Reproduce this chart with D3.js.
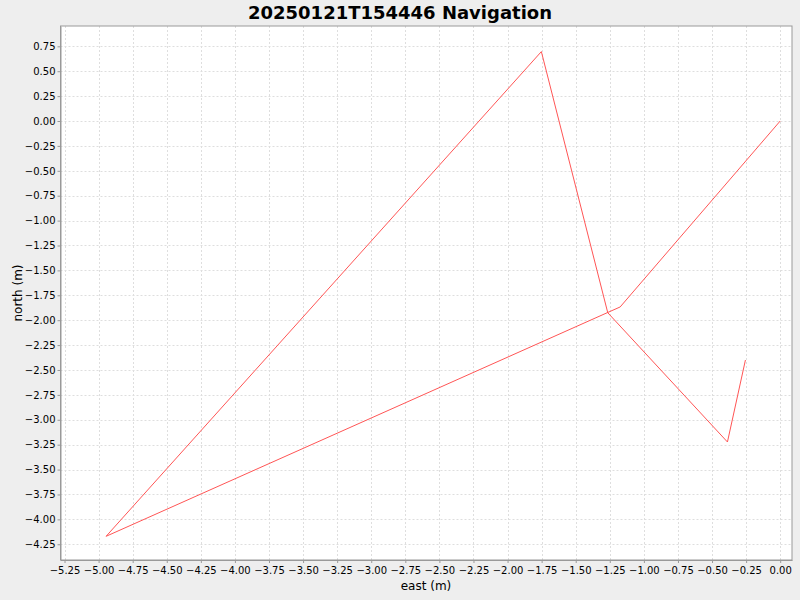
<!DOCTYPE html>
<html><head><meta charset="utf-8">
<script src="https://cdn.jsdelivr.net/npm/d3@7"></script>
<style>body{margin:0;background:#eeeeee}svg{display:block}</style>
</head><body>
<svg id="c" width="800" height="600"></svg>
<script>
const title = "20250121T154446 Navigation";
const xLabel = "east (m)";
const yLabel = "north (m)";
const eastValues  = [0.00, -1.174, -4.945, -1.752, -1.265, -0.387, -0.255];
const northValues = [0.00, -1.867, -4.170,  0.697, -1.925, -3.223, -2.400];
const xTicks = d3.range(-5.25, 0.001, 0.25);
const yTicks = d3.range(-4.25, 0.76, 0.25);

const svg = d3.select("#c");
const L = 60.5, R = 792, T = 26, B = 560;
svg.append("rect").attr("width",800).attr("height",600).attr("fill","#eeeeee");
const x = d3.scaleLinear().domain([-5.2795, 0.0866]).range([L, R]);
const y = d3.scaleLinear().domain([-4.408, 0.954]).range([B, T]);

svg.append("rect").attr("x",L).attr("y",T).attr("width",R-L).attr("height",B-T).attr("fill","#ffffff");

const g = svg.append("g");
g.selectAll(".vx").data(xTicks).enter().append("line")
  .attr("x1",d=>Math.round(x(d))+0.5).attr("x2",d=>Math.round(x(d))+0.5)
  .attr("y1",T).attr("y2",B).attr("stroke","#dedede").attr("stroke-width",1).attr("stroke-dasharray","2,2");
g.selectAll(".hy").data(yTicks).enter().append("line")
  .attr("y1",d=>Math.round(y(d))+0.5).attr("y2",d=>Math.round(y(d))+0.5)
  .attr("x1",L).attr("x2",R).attr("stroke","#dedede").attr("stroke-width",1).attr("stroke-dasharray","2,2");

const line = d3.line().x((d,i)=>x(eastValues[i])).y((d,i)=>y(northValues[i]));
svg.append("path").datum(eastValues).attr("d",line).attr("fill","none")
  .attr("stroke","#ff5555").attr("stroke-width",1);

svg.append("rect").attr("x",L).attr("y",T).attr("width",R-L).attr("height",B-T)
  .attr("fill","none").attr("stroke","#999999").attr("stroke-width",1);

const fmt = d3.format(".2f");
const xa = svg.append("g").attr("transform",`translate(0,${B})`)
  .call(d3.axisBottom(x).tickValues(xTicks).tickFormat(fmt).tickSize(3).tickSizeOuter(0));
const ya = svg.append("g").attr("transform",`translate(${L},0)`)
  .call(d3.axisLeft(y).tickValues(yTicks).tickFormat(fmt).tickSize(3).tickSizeOuter(0));
[xa,ya].forEach(a=>{
  a.select(".domain").attr("stroke","#999999");
  a.selectAll(".tick line").attr("stroke","#999999");
  a.selectAll("text").attr("fill","#000").style("font-family","DejaVu Sans").style("font-size","10px");
});
xa.selectAll("text").attr("dy","0.71em").attr("y",7);
ya.selectAll("text").attr("x",-5);

svg.append("text").attr("x",400).attr("y",19).attr("text-anchor","middle")
  .style("font-family","DejaVu Sans").style("font-weight","bold").style("font-size","18px").text(title);
svg.append("text").attr("x",426).attr("y",590).attr("text-anchor","middle")
  .style("font-family","DejaVu Sans").style("font-size","12px").text(xLabel);
svg.append("text").attr("transform","translate(22,293) rotate(-90)").attr("text-anchor","middle")
  .style("font-family","DejaVu Sans").style("font-size","12px").text(yLabel);
</script>
</body></html>
